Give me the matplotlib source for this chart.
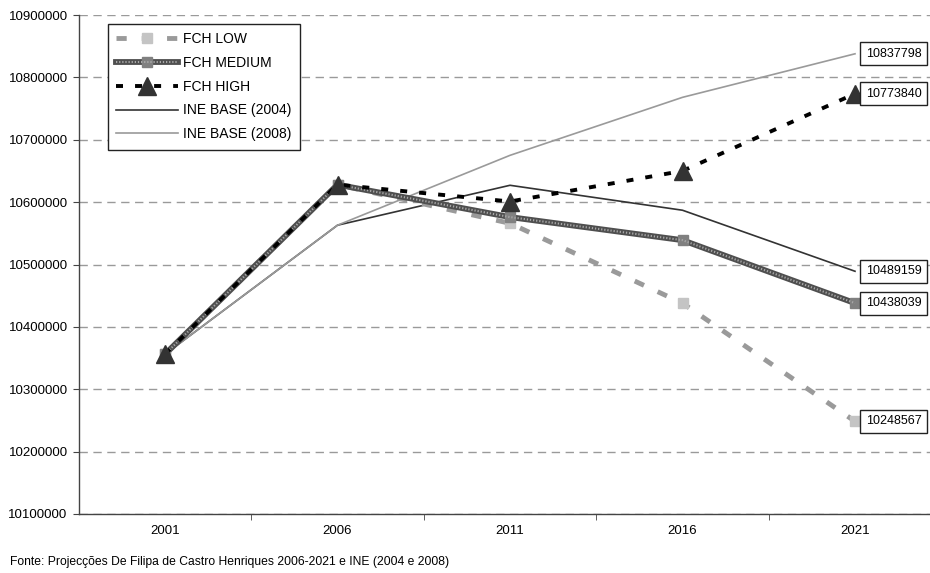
import matplotlib
matplotlib.use("Agg")
import matplotlib.pyplot as plt
from matplotlib.legend_handler import HandlerTuple

plt.rcParams['font.family'] = ['Liberation Sans', 'DejaVu Sans']

years = ["2001", "2006", "2011", "2016", "2021"]
fch_low = [10356117, 10628000, 10566000, 10438000, 10248567]
fch_medium = [10356117, 10628000, 10576000, 10539000, 10438039]
fch_high = [10356117, 10628000, 10601000, 10650000, 10773840]
ine_2004 = [10356117, 10563000, 10627000, 10587000, 10489159]
ine_2008 = [10356117, 10563000, 10675000, 10768000, 10837798]
y_ticks = list(range(10100000, 10900001, 100000))
source_note = "Fonte: Projecções De Filipa de Castro Henriques 2006-2021 e INE (2004 e 2008)"

fig = plt.figure(figsize=(9.3, 5.73), dpi=100)
ax = fig.add_axes([78.75 / 930, 59 / 573, 862.5 / 930, 499 / 573])

x = list(range(len(years)))

# INE reference series
l2004, = ax.plot(x, ine_2004, color="#333333", lw=1.2, zorder=3)
l2008, = ax.plot(x, ine_2008, color="#9a9a9a", lw=1.2, zorder=3)

# FCH low scenario: grey dashes with light square markers
llow, = ax.plot(x, fch_low, color="#9a9a9a", lw=3.5, dashes=(2.1, 3.1),
                marker="s", markersize=6.5, markerfacecolor="#c4c4c4",
                markeredgecolor="#c4c4c4", zorder=4)

# FCH medium scenario: thick patterned band
lmed_bg, = ax.plot(x, fch_medium, color="#4f4f4f", lw=4.2,
                   marker="s", markersize=7, markerfacecolor="#808080",
                   markeredgecolor="#808080", zorder=5)
lmed_fg, = ax.plot(x, fch_medium, color="#a8a8a8", lw=1.5, dashes=(0.6, 0.9),
                   zorder=5)

# FCH high scenario: black dashes with dark triangles
lhigh, = ax.plot(x, fch_high, color="black", lw=2.8, dashes=(1.8, 3.1),
                 marker="^", markersize=13, markerfacecolor="#333333",
                 markeredgecolor="#333333", zorder=6)

ax.set_xlim(-0.5, len(years) - 0.5)
ax.set_ylim(y_ticks[0], y_ticks[-1])
ax.set_yticks(y_ticks)
ax.set_yticklabels([str(v) for v in y_ticks], fontsize=9.5)
ax.yaxis.grid(True, color="#9a9a9a", lw=1, dashes=(6, 4))
ax.set_axisbelow(True)

ax.set_xticks(x)
ax.set_xticklabels(years, fontsize=9.5)
ax.tick_params(axis="x", which="major", length=0, pad=8)
ax.set_xticks([i + 0.5 for i in range(len(years) - 1)], minor=True)
ax.tick_params(axis="x", which="minor", length=4, color="#444444", direction="out")
ax.tick_params(axis="y", length=4, color="#444444", direction="out", pad=4)

for side in ("top", "right"):
    ax.spines[side].set_visible(False)
for side in ("left", "bottom"):
    ax.spines[side].set_color("#444444")
    ax.spines[side].set_linewidth(1)

# End-value labels
for series in (ine_2008, fch_high, ine_2004, fch_medium, fch_low):
    ax.annotate(str(series[-1]), xy=(x[-1], series[-1]), xytext=(8, 0),
                textcoords="offset points", ha="left", va="center", fontsize=9,
                bbox=dict(boxstyle="square,pad=0.45", fc="white", ec="#222222", lw=1),
                zorder=7)

leg = ax.legend([llow, (lmed_bg, lmed_fg), lhigh, l2004, l2008],
                ["FCH LOW", "FCH MEDIUM", "FCH HIGH", "INE BASE (2004)", "INE BASE (2008)"],
                handler_map={tuple: HandlerTuple(ndivide=1)},
                loc="upper left", bbox_to_anchor=(0.034, 0.982), borderaxespad=0,
                fontsize=10, handlelength=4.4, handletextpad=0.4, labelspacing=0.7,
                fancybox=False, framealpha=1, edgecolor="#222222", borderpad=0.6)
leg.get_frame().set_linewidth(1)

fig.text(10 / 930, 1 - 562 / 573, source_note, fontsize=8.7, ha="left", va="center")

fig.savefig("out.png", dpi=100)
